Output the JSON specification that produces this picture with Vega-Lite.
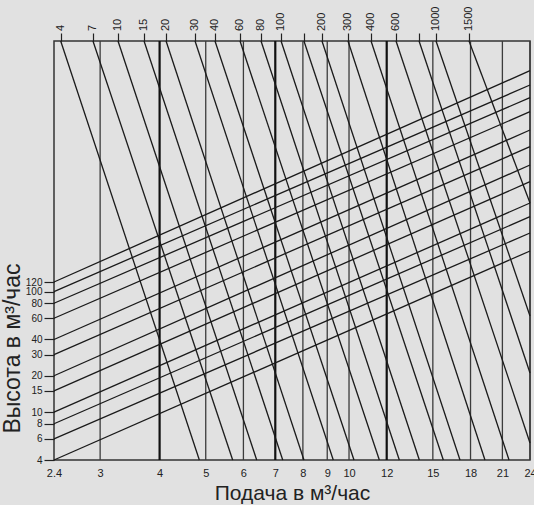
{
  "$schema": "https://vega.github.io/schema/vega-lite/v6.json",
  "width": 476,
  "height": 419,
  "autosize": {"type": "none"},
  "padding": {"left": 54, "top": 41, "right": 4, "bottom": 45},
  "background": "#e1e1e1",
  "config": {
    "view": {"stroke": "#333333", "strokeWidth": 1.5},
    "font": "Liberation Sans"
  },
  "datasets": {
    "verticals": [
      {"q": 3}, {"q": 4}, {"q": 5}, {"q": 6}, {"q": 7}, {"q": 8}, {"q": 9},
      {"q": 10}, {"q": 12}, {"q": 15}, {"q": 18}, {"q": 21}, {"q": 24}
    ],
    "heads": [
      {"q1": 2.4, "h1": 4, "q2": 24, "h2": 217},
      {"q1": 2.4, "h1": 6, "q2": 24, "h2": 306},
      {"q1": 2.4, "h1": 8, "q2": 24, "h2": 418},
      {"q1": 2.4, "h1": 10, "q2": 24, "h2": 543},
      {"q1": 2.4, "h1": 15, "q2": 24, "h2": 816},
      {"q1": 2.4, "h1": 20, "q2": 24, "h2": 1123},
      {"q1": 2.4, "h1": 30, "q2": 24, "h2": 1592},
      {"q1": 2.4, "h1": 40, "q2": 24, "h2": 2191},
      {"q1": 2.4, "h1": 60, "q2": 24, "h2": 3109},
      {"q1": 2.4, "h1": 80, "q2": 24, "h2": 4064},
      {"q1": 2.4, "h1": 100, "q2": 24, "h2": 5177},
      {"q1": 2.4, "h1": 120, "q2": 24, "h2": 6808}
    ],
    "diag": [
      {"label": "4", "q1": 2.479, "h1": 12000, "q2": 4.848, "h2": 4},
      {"label": "7", "q1": 2.898, "h1": 12000, "q2": 5.696, "h2": 4},
      {"label": "10", "q1": 3.271, "h1": 12000, "q2": 6.398, "h2": 4},
      {"label": "15", "q1": 3.71, "h1": 12000, "q2": 7.257, "h2": 4},
      {"label": "20", "q1": 4.127, "h1": 12000, "q2": 8.041, "h2": 4},
      {"label": "30", "q1": 4.748, "h1": 12000, "q2": 9.267, "h2": 4},
      {"label": "40", "q1": 5.229, "h1": 12000, "q2": 10.243, "h2": 4},
      {"label": "60", "q1": 5.902, "h1": 12000, "q2": 11.58, "h2": 4},
      {"label": "80", "q1": 6.533, "h1": 12000, "q2": 12.755, "h2": 4},
      {"label": "100", "q1": 7.198, "h1": 12000, "q2": 14.052, "h2": 4},
      {"label": "", "q1": 8.041, "h1": 12000, "q2": 15.78, "h2": 4},
      {"label": "200", "q1": 8.774, "h1": 12000, "q2": 17.106, "h2": 4},
      {"label": "300", "q1": 9.95, "h1": 12000, "q2": 19.302, "h2": 4},
      {"label": "400", "q1": 11.124, "h1": 12000, "q2": 21.685, "h2": 4},
      {"label": "600", "q1": 12.553, "h1": 12000, "q2": 24, "h2": 5.535},
      {"label": "", "q1": 14.032, "h1": 12000, "q2": 24, "h2": 21.09},
      {"label": "1000", "q1": 15.232, "h1": 12000, "q2": 24, "h2": 62.7},
      {"label": "1500", "q1": 17.867, "h1": 12000, "q2": 24, "h2": 543}
    ]
  },
  "layer": [
    {
      "data": {"name": "verticals"},
      "mark": {"type": "rule"},
      "encoding": {
        "x": {
          "field": "q",
          "type": "quantitative",
          "scale": {"type": "log", "domain": [2.4, 24], "nice": false},
          "axis": {
            "orient": "bottom",
            "values": [2.4, 3, 4, 5, 6, 7, 8, 9, 10, 12, 15, 18, 21, 24],
            "format": "~g",
            "ticks": false,
            "domain": false,
            "grid": false,
            "labelPadding": 7,
            "labelFontSize": 11,
            "labelColor": "#222222",
            "labelFlush": false,
            "labelOverlap": false,
            "labelBound": false,
            "title": "Подача в м³/час",
            "titleFontSize": 21,
            "titleFontWeight": "normal",
            "titleColor": "#222222",
            "titleY": 39,
            "titleBaseline": "alphabetic"
          }
        },
        "strokeWidth": {
          "condition": {"test": "datum.q == 4 || datum.q == 7 || datum.q == 12", "value": 2.2},
          "value": 1.3
        },
        "color": {
          "condition": {"test": "datum.q == 4 || datum.q == 7 || datum.q == 12", "value": "#111111"},
          "value": "#3c3c3c"
        }
      }
    },
    {
      "data": {"name": "heads"},
      "mark": {"type": "rule", "stroke": "#1a1a1a", "strokeWidth": 1.3},
      "encoding": {
        "x": {
          "field": "q1",
          "type": "quantitative",
          "scale": {"type": "log", "domain": [2.4, 24], "nice": false},
          "axis": null
        },
        "x2": {"field": "q2"},
        "y": {
          "field": "h1",
          "type": "quantitative",
          "scale": {"type": "log", "domain": [4, 12000], "nice": false},
          "axis": {
            "orient": "left",
            "values": [4, 6, 8, 10, 15, 20, 30, 40, 60, 80, 100, 120],
            "format": "~g",
            "tickSize": 10,
            "tickColor": "#222222",
            "tickWidth": 1.2,
            "labelPadding": 2,
            "labelFontSize": 10,
            "labelColor": "#222222",
            "labelFlush": false,
            "labelOverlap": false,
            "domain": false,
            "grid": false,
            "title": "Высота в м³/час",
            "titleFontSize": 23,
            "titleFontWeight": "normal",
            "titleColor": "#222222",
            "titleX": -42,
            "titleY": 307,
            "titleAlign": "center",
            "titleBaseline": "middle"
          }
        },
        "y2": {"field": "h2"}
      }
    },
    {
      "data": {"name": "diag"},
      "mark": {"type": "rule", "stroke": "#1a1a1a", "strokeWidth": 1.3},
      "encoding": {
        "x": {
          "field": "q1",
          "type": "quantitative",
          "scale": {"type": "log", "domain": [2.4, 24], "nice": false},
          "axis": {
            "orient": "top",
            "values": [2.479, 2.898, 3.271, 3.71, 4.127, 4.748, 5.229, 5.902, 6.533, 7.198, 8.041, 8.774, 9.95, 11.124, 12.553, 14.032, 15.232, 17.867],
            "labels": false,
            "tickSize": 8,
            "tickColor": "#222222",
            "tickWidth": 1.2,
            "domain": false,
            "grid": false,
            "title": null
          }
        },
        "x2": {"field": "q2"},
        "y": {
          "field": "h1",
          "type": "quantitative",
          "scale": {"type": "log", "domain": [4, 12000], "nice": false},
          "axis": null
        },
        "y2": {"field": "h2"}
      }
    },
    {
      "data": {"name": "diag"},
      "mark": {"type": "text", "angle": 270, "align": "left", "baseline": "middle", "dx": 10, "fontSize": 11, "color": "#222222"},
      "encoding": {
        "x": {
          "field": "q1",
          "type": "quantitative",
          "scale": {"type": "log", "domain": [2.4, 24], "nice": false},
          "axis": null
        },
        "y": {
          "field": "h1",
          "type": "quantitative",
          "scale": {"type": "log", "domain": [4, 12000], "nice": false},
          "axis": null
        },
        "text": {"field": "label"}
      }
    }
  ],
  "resolve": {"axis": {"x": "independent", "y": "independent"}}
}
